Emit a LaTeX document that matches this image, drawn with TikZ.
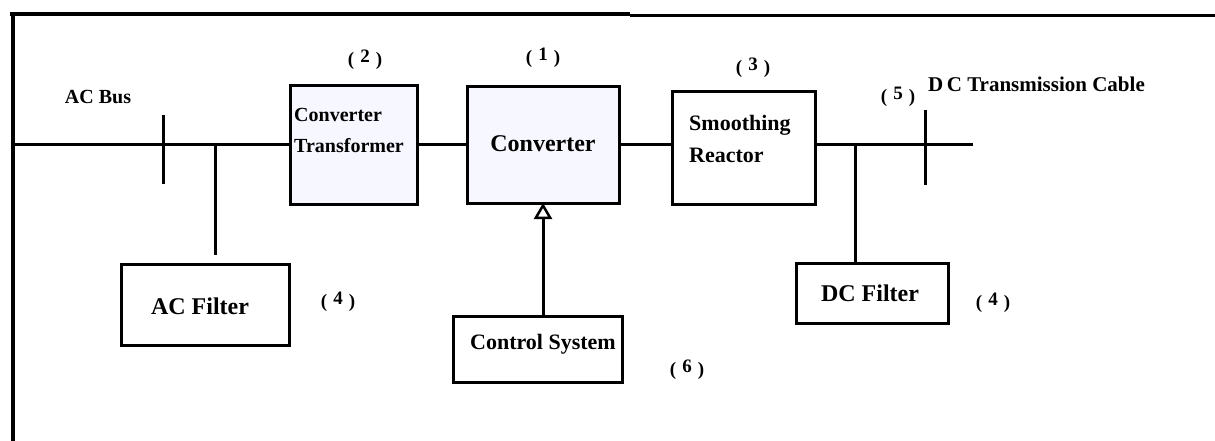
\documentclass[tikz,border=0pt]{standalone}
\usepackage{fontspec}
\setmainfont{Liberation Serif}
\usetikzlibrary{arrows.meta}
\newcommand{\mynum}[1]{(\hspace{6pt}\raisebox{3pt}{#1}\hspace{6pt})}
\begin{document}
\begin{tikzpicture}[x=1pt,y=-1pt,
  wire/.style={line width=3pt},
  box/.style={draw,line width=3pt,rectangle,inner sep=0pt,outer sep=0pt},
  tinted/.style={fill=blue!3},
  lbl/.style={font=\bfseries\fontsize{#1}{#1}\selectfont,inner sep=0pt},
  lbl/.default=20,
  num/.style={font=\bfseries\fontsize{19}{22}\selectfont,inner sep=0pt}]
\useasboundingbox (0,0) rectangle (1215,441);
% frame
\coordinate (fTL) at (13,14);
\coordinate (fTM) at (630,14);
\coordinate (fTR) at (1215,16);
\coordinate (fBL) at (13,441);
\draw[line width=4pt] (10,14) -- (fTM);
\draw[line width=3pt] (fTM |- fTR) -- (fTR);
\draw[line width=4pt] (fTL) -- (fBL);
% boxes
\node[box,tinted,minimum width=127,minimum height=118] (ct) at (353.5,145) {};
\node[box,tinted,minimum width=152,minimum height=116] (conv) at (543,145) {};
\node[box,minimum width=143,minimum height=112] (sr) at (743.5,148) {};
\node[box,minimum width=168,minimum height=81] (acf) at (205,304.5) {};
\node[box,minimum width=152,minimum height=60] (dcf) at (872,293) {};
\node[box,minimum width=169,minimum height=66] (ctrl) at (537.5,349) {};
% texts
\node[lbl=20] (tacbus) at (98,97) {AC Bus};
\node[lbl=20,anchor=west] (tct1) at (294,115) {Converter};
\node[lbl=20,anchor=west] (tct2) at (294,146) {Transformer};
\node[lbl=24] (tconv) at (543,144) {Converter};
\node[lbl=22,anchor=west] (tsr1) at (689,125) {Smoothing};
\node[lbl=22,anchor=west] (tsr2) at (689,155) {Reactor};
\node[lbl=24] (tacf) at (200,306) {AC Filter};
\node[lbl=24] (tdcf) at (870,293) {DC Filter};
\node[lbl=22] (tctrl) at (543,344) {Control System};
\node[lbl=21,anchor=west] (tdc) at (928,84) {D\,C Transmission Cable};
% numbers
\node[num] (n2) at (365,60) {\mynum{2}};
\node[num] (n1) at (543,58) {\mynum{1}};
\node[num] (n3) at (753,68) {\mynum{3}};
\node[num] (n5) at (898,97) {\mynum{5}};
\node[num] (n4a) at (338,302) {\mynum{4}};
\node[num] (n4b) at (993,303) {\mynum{4}};
\node[num] (n6) at (687,370) {\mynum{6}};
% bus coordinates
\coordinate (busL) at (13,145);
\coordinate (acT1) at (163,115);
\coordinate (acT2) at (163,184);
\coordinate (acJ) at (215,145);
\coordinate (acS) at (215,255);
\coordinate (dcJ) at (855,145);
\coordinate (dcEnd) at (973,145);
\coordinate (dcT1) at (925,110);
\coordinate (dcT2) at (925,185);
% wires
\draw[wire] (busL) -- (ct.west);
\draw[wire] (acT1) -- (acT2);
\draw[wire] (acJ) -- (acS);
\draw[wire] (ct.east) -- (conv.west);
\draw[wire] (conv.east) -- (conv.east -| sr.west);
\draw[wire] (sr.east |- dcEnd) -- (dcEnd);
\draw[wire] (dcJ) -- (dcJ |- dcf.north);
\draw[wire] (dcT1) -- (dcT2);
\draw[wire,-{Triangle[open,length=16pt,width=18pt,line width=2.5pt]}] (ctrl.north -| conv.south) -- (conv.south);
\end{tikzpicture}
\end{document}
